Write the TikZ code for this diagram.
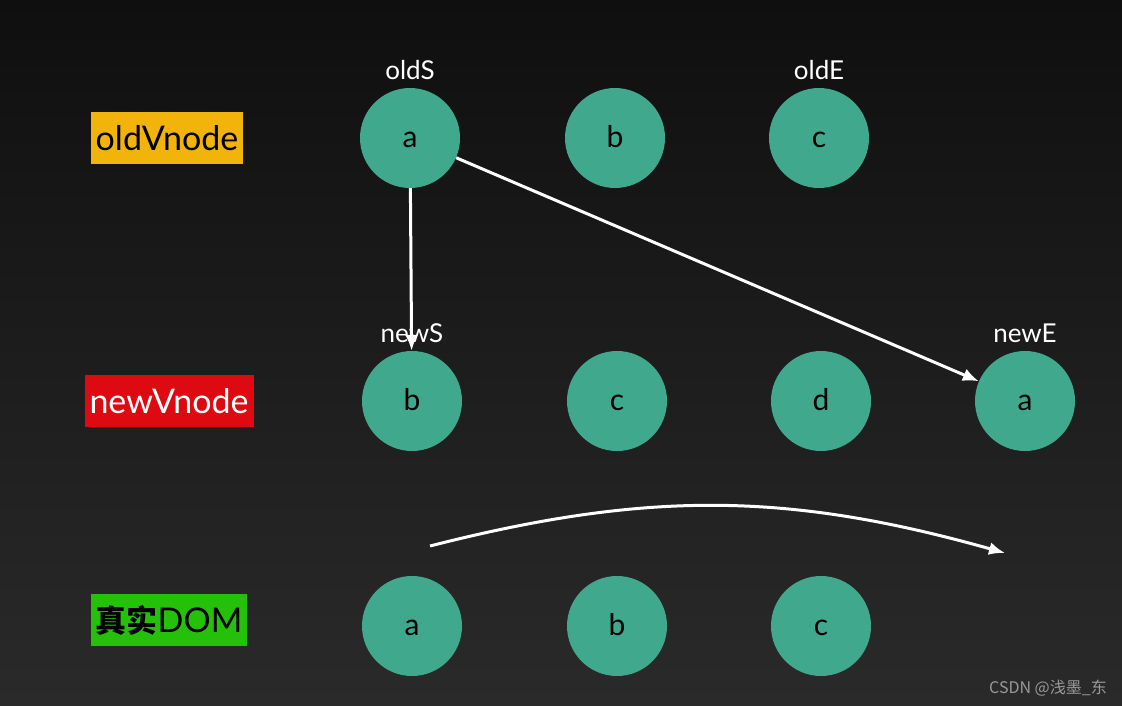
\documentclass[tikz,border=0pt]{standalone}
\usepackage{fontspec}
\setmainfont{Lato}
\newfontfamily\cjk{Noto Sans CJK SC}
\usepackage{tikz}
\usetikzlibrary{arrows.meta}
\definecolor{vnteal}{RGB}{64,168,140}
\definecolor{oldtag}{RGB}{242,180,10}
\definecolor{newtag}{RGB}{221,10,18}
\definecolor{domtag}{RGB}{36,192,10}
\definecolor{bgtop}{RGB}{15,15,15}
\definecolor{bgbot}{RGB}{42,42,42}
\begin{document}
\begin{tikzpicture}[x=1pt,y=-1pt,
  vn/.style={circle,fill=vnteal,minimum size=100pt,inner sep=0pt,text height=19pt,text depth=0pt,font=\fontsize{30}{30}\selectfont},
  tag/.style={minimum height=52pt,inner xsep=5pt,font=\fontsize{34}{34}\selectfont},
  ptr/.style={white,font=\fontsize{26}{26}\selectfont},
  move/.style={white,line width=3pt,-{Latex[length=16pt,width=13pt]}}]

% background, also fixes the page size
\shade[top color=bgtop,bottom color=bgbot] (0,0) rectangle (1122,706);

% row tags
\node [tag,fill=oldtag,text=black] (old) at (167,138) {oldVnode};
\node [tag,fill=newtag,text=white] (new) at (169,401) {newVnode};
\node [tag,fill=domtag,text=black] (dom) at (169,620) {{\cjk\bfseries\fontsize{31}{31}\selectfont 真实}DOM};

% old vnodes
\node [vn,label={[ptr,label distance=5pt]above:oldS}] (o1) at (410,138) {a};
\node [vn] (o2) at (615,138) {b};
\node [vn,label={[ptr,label distance=5pt]above:oldE}] (o3) at (819,138) {c};

% new vnodes
\node [vn,label={[ptr,label distance=5pt]above:newS}] (n1) at (412,401) {b};
\node [vn] (n2) at (617,401) {c};
\node [vn] (n3) at (821,401) {d};
\node [vn,label={[ptr,label distance=5pt]above:newE}] (n4) at (1025,401) {a};

% real dom
\node [vn] (d1) at (412,626) {a};
\node [vn] (d2) at (617,626) {b};
\node [vn] (d3) at (821,626) {c};

\draw [move] (o1) -- (n1);
\draw [move] (o1) -- (n4);

\coordinate (cs) at (430,546);
\coordinate (ce) at (1005,553);
\draw [move] (cs) to [bend left=15] (ce);

\node [text=gray!80,font=\cjk\fontsize{16}{16}\selectfont] (mark) at (1048,688) {CSDN @浅墨\_东};
\end{tikzpicture}
\end{document}
